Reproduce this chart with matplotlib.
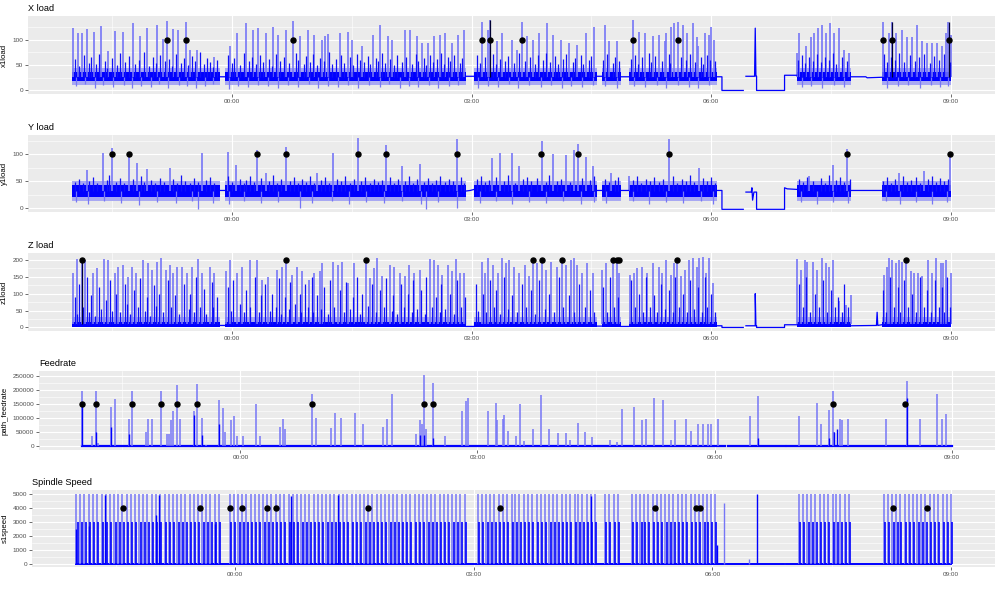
import numpy as np
import matplotlib
matplotlib.use("Agg")
import matplotlib.pyplot as plt

plt.rcParams['font.family'] = ['Liberation Sans', 'DejaVu Sans']

nan = np.nan
# time axis: minutes since 22:00
x_major = [120, 300, 480, 660]
x_major_labels = ["00:00", "03:00", "06:00", "09:00"]
x_minor = [30, 210, 390, 570]

# machining (active) periods, minutes since 22:00
active = [(0, 111), (115, 296), (302, 394), (398, 412), (418, 484), (544, 585), (608, 660)]

# ---------------- X load ----------------
x_band = (18, 36)
x_fringe = (11, 44)
x_flat_t = [111, 115, nan, 296, 302, nan, 394, 398, nan, 412, 418, nan, 484, 488, 488, 504, nan,
            506, 512.5, 513, 513.5, 514, 514, 535, 535, 544, nan, 585, 596, 597, 608]
x_flat_v = [27, 27, nan, 28, 28, nan, 28, 28, nan, 27, 27, nan, 27, 27, 0, 0, nan,
            28, 28, 123, 28, 28, 0, 0, 30, 30, nan, 27, 27, 25, 26]
x_tall = [(1,124),(4.5,114),(7.5,113),(11,121),(16.5,116),(22,128),(27,77),(32,118),(38,116),(46,133),(51,108),
          (56,123),(64,130),(68,101),(71,138),(76,121),(79.5,120),(85.5,136),(88.5,80),(94,80),(107,67),(118.5,87),
          (124,114),(131,133),(136,120),(139.5,123),(146,113),(151,126),(154.5,110),(161,120),(166,137),(171,108),
          (177,120),(182,110),(187.5,100),(190,108),(192,112),(201,113),(207,116),(210,100),(218,87),(226,110),
          (231,130),(237,107),(240,100),(250,120),(253.5,120),(259,107),(262.5,93),(267,93),(272,107),(276,110),
          (280,113),(285,93),(289.5,110),(294,120),(308,136),(312,120),(314,140),(319,97),(322.5,113),(330,100),
          (334.5,80),(338,136),(342,107),(346,100),(351,113),(357,133),(361,110),(367.5,100),(373.5,93),(379,90),
          (386,113),(392,126),(400.5,130),(403.5,97),(409,97),(421,140),(426,116),(430.5,113),(436,107),(441,110),
          (445,97),(446,113),(450,126),(452,133),(455,136),(459,130),(462,113),(466,133),(469,106),(470,87),
          (475,113),(478,110),(480,126),(482,100),(544.5,74),(546,113),(551,87),(555,106),(557,113),(560,123),
          (563,130),(566,113),(569,133),(572,113),(576,123),(580,80),(583.5,74),(609,136),(613.5,113),(616,136),
          (619,113),(623,120),(627,106),(631,106),(634.5,130),(638,97),(642,93),(645.75,93),(649.5,93),(653,87),
          (656,113),(658,136),(660,110)]
x_mid = [(2.5,62),(5.5,48),(9,70),(12.5,55),(14,66),(18,52),(20,72),(24.5,58),(26,45),(30,64),(34,50),(36,74),
         (40,56),(43,68),(47.5,52),(50,60),(54,75),(58,49),(61,66),(63,54),(66,70),(69.5,58),(73,62),(75,48),
         (78,72),(81.5,55),(84,64),(87,50),(90,68),(92.5,58),(96,75),(99,52),(101.5,64),(104,56),(106,46),(109,60),
         (117,70),(120,55),(122,64),(126,50),(129,74),(133,58),(135,66),(138,52),(141,70),(143.5,56),(148,62),
         (150,48),(153,72),(156,58),(159,66),(163,54),(168,74),(170,60),(174,52),(176,68),(179,56),(181,72),
         (184,50),(186,64),(189,58),(193,76),(195,52),(198,62),(202,70),(204,55),(209,66),(211,50),(214,72),
         (216,60),(219,56),(222,68),(224,52),(228,64),(230,58),(233,74),(235,55),(239,62),(242,50),(244,70),
         (248,56),(251,66),(255,52),(258,72),(260,58),(264,64),(266,50),(269,70),(271,56),(274,62),(277,74),
         (279,52),(282,66),(284,58),(287,70),(291,54),(293,64),(304,70),(306,55),(310,66),(316,72),(318,52),
         (321,62),(325,58),(327,68),(332,54),(336,74),(340,58),(344,66),(348,52),(350,70),(354,60),(356,74),
         (359,56),(363,68),(365,52),(369,62),(371,72),(376,56),(378,64),(382,70),(384,52),(388,60),(390,68),
         (399,60),(402,72),(406,55),(408,66),(411,58),(420,62),(423,70),(425,52),(428,66),(433,74),(435,56),
         (438,68),(443,58),(448,72),(449,54),(457,66),(461,60),(464,72),(468,56),(472,66),(474,52),(477,70),
         (479,60),(483,58),(545,60),(548,70),(550,54),(553,66),(556,58),(559,72),(562,56),(565,66),(568,60),
         (571,74),(574,52),(578,66),(582,58),(610,72),(612,56),(615,66),(618,60),(621,74),(625,56),(629,70),
         (633,58),(636,66),(640,72),(644,54),(647,68),(651,60),(655,72),(659,56)]
x_low = [(3,8),(10,12),(17,5),(23,10),(31,6),(39,11),(45,4),(52,9),(59,7),(65,12),(72,5),(80,10),(86,8),(93,4),
         (100,9),(106,12),(118,3),(125,9),(132,6),(140,11),(147,8),(155,4),(162,10),(170,7),(178,12),(185,5),
         (192,9),(200,6),(207,11),(215,4),(223,10),(231,7),(238,12),(246,5),(253,9),(260,6),(268,11),(275,4),
         (283,8),(290,10),(305,5),(312,9),(320,6),(328,12),(335,4),(343,10),(352,7),(360,11),(368,5),(375,9),
         (383,6),(391,10),(400,8),(409,5),(422,9),(430,6),(439,11),(446,4),(455,10),(463,7),(470,5),(478,10),
         (548,6),(555,9),(563,4),(572,10),(580,7),(612,4),(620,8),(628,11),(637,5),(645,10),(652,6),(658,9)]
x_black = [(314,140),(616,136),(658.5,136)]
x_pts = [(71,100),(85.5,100),(166,100),(308,100),(314,100),(338,100),(421.5,100),(455,100),(609,100),(616,100),(658.5,100)]

# ---------------- Y load ----------------
y_band = (20, 43)
y_fringe = (13, 51)
y_flat_t = [111, 115, nan, 296, 299, 302, nan, 394, 398, nan, 412, 418, nan, 484, 488, 488, 504, nan,
            506, 510, 510.5, 511, 512, 514, 514, 535, 535, 537, 544, nan, 585, 608]
y_flat_v = [33, 33, nan, 32, 33, 35, nan, 33, 33, nan, 33, 33, nan, 33, 33, -2, -2, nan,
            30, 30, 38, 15, 30, 30, -2, -2, 38, 36, 35, nan, 33, 33]
y_tall = [(11,71),(23,103),(30,112),(43,105),(49,84),(56,72),(73.5,75),(98,103),(117,104),(123,81),(139,108),
          (145.5,65),(161,114),(184,65),(196,102),(214.5,130),(236,118),(247.5,78),(261,82),(289,129),(315,94),
          (321,102),(330,103),(336,78),(353,124),(361,100),(371,98),(377,108),(380,120),(386,96),(391,78),
          (405,65),(418.5,60),(448,128),(471,75),(553.5,60),(571,80),(582,110),(621,65),(640,70),(659,100)]
y_mid = [(2,48),(5,55),(8,46),(13,50),(16,58),(19,47),(26,52),(28,62),(33,49),(36,56),(39,46),(46,54),(52,60),
         (54,48),(59,52),(62,46),(66,57),(69,49),(76,55),(79,46),(82,62),(85,50),(89,47),(92,56),(95,49),(101,53),
         (104,58),(107,46),(117,60),(120,48),(126,55),(129,46),(131,52),(134,60),(137,48),(142,56),(148,50),
         (151,62),(154,47),(157,54),(164,50),(167,58),(170,46),(173,55),(176,49),(179,60),(182,47),(187,53),
         (190,58),(193,46),(199,55),(202,50),(205,60),(209,47),(212,54),(217,50),(220,58),(224,46),(227,55),
         (230,49),(233,52),(239,58),(242,47),(245,55),(250,50),(253,60),(256,46),(259,54),(264,49),(267,56),
         (270,47),(273,53),(276,60),(280,48),(283,55),(286,50),(292,58),(294,47),(304,55),(307,60),(310,48),
         (313,52),(318,58),(324,50),(327,62),(333,47),(339,55),(342,58),(345,50),(349,56),(356,48),(358,62),
         (364,50),(367,55),(374,48),(383,57),(389,52),(392,60),(400,55),(403,48),(408,52),(410,58),(421,52),
         (424,60),(427,47),(431,55),(434,50),(437,58),(441,48),(444,54),(451,60),(454,47),(458,55),(461,50),
         (464,62),(467,48),(474,56),(477,50),(480,58),(483,47),(546,55),(549,48),(552,58),(556,50),(562,56),
         (565,47),(568,62),(574,52),(577,58),(580,48),(584,55),(609,50),(612,58),(615,47),(618,55),(624,60),
         (627,48),(630,52),(634,58),(637,47),(643,55),(646,60),(649,48),(652,56),(655,50),(658,54)]
y_low = [(3,12),(12,8),(24,14),(37,10),(50,6),(64,12),(78,9),(90,13),(94.5,-1),(106,10),(118,8),(129,13),(142,9),
         (155,12),(171,0),(180,10),(195,14),(208,7),(221,12),(234,9),(248,13),(262,8),(266,-1),(275,11),(289,0),
         (306,10),(318,13),(330,7),(343,12),(356,9),(369,14),(382,8),(392,11),(401,9),(421,13),(433,7),(446,12),
         (459,9),(472,13),(481,8),(547,12),(559,7),(571,11),(583,9),(611,13),(622,8),(634,11),(646,7),(657,12)]
y_pts = [(30,100),(43,100),(139,100),(161,100),(214.5,100),(236,100),(289,100),(352.5,100),(380,100),(448,100),(582,100),(659,100)]

# ---------------- Z load ----------------
z_band = (1, 17)
z_fringe = (0, 30)
z_flat_t = [111, 115, nan, 296, 302, nan, 394, 398, nan, 412, 418, nan, 484, 488, 488, 504, nan,
            506, 513, 513, 513.5, 514, 514, 535, 535, 544, nan, 585, 604, 604.5, 605, 608]
z_flat_v = [6, 6, nan, 3, 3, nan, 4, 4, nan, 3, 3, nan, 5, 5, 0, 0, nan,
            5, 5, 100, 5, 5, 0, 0, 8, 8, nan, 5, 6, 45, 6, 8]
z_tall = [(1,161),(4,202),(7.5,205),(10,200),(16,161),(19,176),(24,202),(27,200),(32,161),(34.5,180),(38,185),
          (42,150),(45,180),(48,161),(53,200),(57,190),(60,171),(64,195),(67,205),(70.5,171),(73.5,185),(76,161),
          (79,178),(82.5,180),(86,161),(90,180),(94.5,202),(98,161),(103.5,180),(107,161),(116,166),(118.5,200),
          (124,161),(128,180),(134,200),(139,200),(143,141),(147,150),(154,171),(158,180),(161,205),(165,156),
          (169,180),(173,166),(178,141),(182,161),(186,166),(188,190),(196,195),(199.5,185),(203,195),(207,132),
          (212,190),(220.5,200),(223.5,146),(227,176),(229,205),(233,151),(238.5,185),(242,180),(246,161),
          (250,151),(253,185),(257,161),(261,171),(268.5,202),(272,200),(274.5,185),(278,156),(282,185),(285,166),
          (288,203),(291,161),(294,161),(307.5,195),(310,161),(312,205),(316,185),(319.5,161),(322.5,205),
          (325.5,190),(328,200),(332,180),(336,161),(340,185),(343,151),(346.5,200),(349.5,190),(353,200),
          (356,171),(360,195),(364,180),(368,200),(371,185),(375,200),(377,205),(379.5,185),(383,161),(387,190),
          (391,161),(398,171),(401,190),(406,200),(409,200),(411,161),(419,156),(422,161),(424.5,176),(428,180),
          (432,161),(436,190),(441,180),(443,161),(446,200),(450,156),(452,190),(454.5,202),(457.5,151),
          (460,171),(463,200),(466,205),(469,180),(471,205),(474,210),(476,161),(478.5,205),(481,132),
          (544.5,202),(547.5,171),(550,200),(552,195),(556.5,195),(559.5,171),(563,205),(566,190),(568.5,180),
          (571,200),(576,77),(581,66),(585,97),(610,156),(612,180),(613.5,205),(616,200),(619,190),(621,200),
          (623,195),(626,202),(630,166),(632,161),(635,161),(638,151),(643,200),(646,161),(649,205),(652.5,190),
          (654,190),(656,200),(660,161)]
z_mid = [(2,90),(3.5,40),(5.5,130),(8.5,60),(11.5,150),(13,45),(14.5,95),(17.5,35),(20.5,120),(22,55),(25.5,80),
         (28.5,140),(30,50),(33,100),(36,45),(39.5,130),(41,70),(43.5,40),(46.5,110),(49.5,60),(51,145),(54.5,50),
         (56,90),(58.5,35),(61.5,125),(63,65),(65.5,100),(68.5,45),(72,140),(74.5,60),(77.5,95),(80.5,40),
         (84,130),(87.5,55),(89,100),(91.5,45),(93,150),(96,60),(99.5,115),(101,40),(105,135),(106,60),(109,90),
         (117,120),(119.5,50),(121,140),(126,70),(129.5,45),(131,110),(133.5,60),(137.5,150),(140.5,45),(142,95),
         (145,130),(148.5,50),(150,100),(153,60),(155.5,145),(157,40),(160,90),(163,55),(164,135),(167.5,70),
         (171,100),(172,45),(175,130),(177,60),(180,150),(181,45),(184,95),(187,55),(189.5,120),(192,40),(194,140),
         (197,60),(201,110),(204,45),(206,135),(209,55),(211,90),(214,150),(216,40),(218,100),(222,65),(225,130),
         (228,45),(231,110),(234,60),(236,145),(240,50),(241,95),(244,40),(247,130),(249,60),(252,100),(255,45),
         (256,140),(259,55),(262,110),(265,40),(266,150),(270,60),(273,90),(276,45),(277,130),(280,55),(283.5,100),
         (287,40),(289,140),(292,60),(295,90),(303,130),(305,50),(308.5,100),(311,45),(314,140),(317,60),(318,110),
         (321,40),(324,150),(327,55),(330,95),(334,45),(338,130),(341,60),(345,110),(348,40),(351,140),(355,55),
         (358,100),(362,45),(366,150),(369,60),(373,95),(377,45),(381,130),(385,60),(389,110),(392,45),(399,120),
         (402,45),(404,150),(407,60),(410,90),(420,140),(423,60),(426,100),(429,45),(431,150),(434,60),(437,95),
         (439,45),(442,130),(445,55),(448,110),(451,45),(453,150),(456,60),(459,100),(462,45),(464,140),(467,55),
         (470,120),(473,45),(475,150),(477,60),(480,100),(483,45),(546,130),(549,60),(551,150),(554,45),(558,100),
         (561,60),(564,140),(567,45),(570,110),(573,60),(575,90),(578,45),(580,130),(583,60),(609,110),(611,45),
         (614,150),(617,60),(620,120),(622,45),(625,140),(628,60),(631,100),(634,45),(637,150),(640,60),(642,110),
         (645,45),(648,140),(651,60),(653,120),(655,45),(657,150),(659,60)]
z_black = [(7.5,205)]
z_pts = [(7.5,200),(161,200),(220.5,200),(346.5,200),(353,200),(368,200),(406,200),(409,200),(411,200),(454.5,200),(626,200)]

# ---------------- Feedrate ----------------
f_base_t = [0, 488, nan, 490, 533.5, nan, 535, 660]
f_base_v = [0, 0, nan, 0, 0, nan, 0, 0]
f_tall = [(0,194000),(7,38000),(10,194000),(12,12000),(22,140000),(25,166000),(35.7,98000),(38,194000),(48,50000),
          (50,98000),(53,98000),(60,194000),(64.5,44000),(66,44000),(67.6,92000),(69,124000),(72,218000),
          (74.4,98000),(85,124000),(87.3,220000),(91,100000),(94,5000),(104,164000),(107,134000),(108.6,50000),
          (113,92000),(115.4,108000),(117,38000),(122,38000),(132,148000),(135,38000),(150,68000),(152,96000),
          (154,62000),(174,185000),(177,100000),(189,66000),(192,116000),(196,100000),(207,116000),(212.7,80000),
          (228.6,68000),(231,96000),(234.7,185000),(253,44000),(256,94000),(257.5,80000),(259.5,253000),
          (261,62000),(266,224000),(275,38000),(288,124000),(291,161000),(293,171000),(307.6,124000),
          (313.7,154000),(315,92000),(319,96000),(320.5,110000),(323.5,54000),(329.6,38000),(332,148000),
          (335,20000),(341.8,62000),(348.6,180000),(354,62000),(360.8,46000),(367,46000),(370,22000),(376,82000),
          (382,50000),(386.6,32000),(401,24000),(405.6,14000),(410,131000),(418.5,140000),(424.6,92000),
          (428,96000),(434.4,172000),(440.5,164000),(447,24000),(450,92000),(458.7,96000),(462.5,53000),
          (467.8,78000),(471.6,78000),(474.7,78000),(477.7,78000),(483,96000),(507,108000),(513,178000),
          (543.8,108000),(557.5,154000),(560.5,80000),(566.6,130000),(569.6,194000),(571,50000),(575,96000),
          (576.5,92000),(581,96000),(610.6,96000),(625.8,232000),(635.7,96000),(648.6,185000),(653,96000),
          (656,114000)]
f_dark = [(0,150000),(10,50000),(22,68000),(35.7,44000),(85,112000),(91,40000),(104,80000),(256,40000),
          (259.5,40000),(266,30000),(513,30000),(571,50000),(573,60000),(625.8,170000),(566.6,30000)]
f_pts = [(0,150000),(10,150000),(38,150000),(60,150000),(72,150000),(87.3,150000),(174,150000),(259.5,150000),
         (266,150000),(569.6,150000),(625,150000)]

# ---------------- Spindle speed ----------------
s_cycles = [0.5, 3.5, 6.5, 10, 13, 16, 19.5, 22.5, 25.5, 29, 32, 35, 38.5, 41.5, 44.5, 48, 51, 54, 57.5, 60.5,
            63.5, 67, 70, 73, 76.5, 79.5, 82.5, 86, 89, 92, 95.5, 98.5, 101.5, 105, 108,
            116, 119, 122.5, 125.5, 128.5, 132, 135, 138, 141.5, 144.5, 147.5, 151, 154, 157, 160.5, 163.5, 166.5,
            170, 173, 176, 179.5, 182.5, 185.5, 189, 192, 195, 198.5, 201.5, 204.5, 208, 211, 214, 217.5, 220.5,
            223.5, 227, 230, 233, 236.5, 239.5, 242.5, 246, 249, 252, 255.5, 258.5, 261.5, 265, 268, 271, 274.5,
            277.5, 280.5, 284, 287, 290, 293.5,
            303, 306, 309.5, 312.5, 315.5, 319, 322, 325, 328.5, 331.5, 334.5, 338, 341, 344, 347.5, 350.5, 353.5,
            357, 360, 363, 366.5, 369.5, 372.5, 376, 379, 382, 385.5, 388.5, 391.5,
            399, 402, 405.5, 408.5,
            419, 422, 425.5, 428.5, 431.5, 435, 438, 441, 444.5, 447.5, 450.5, 454, 457, 460, 463.5, 466.5, 469.5,
            473, 476, 479, 482,
            545, 548, 551.5, 554.5, 557.5, 561, 564, 567, 570.5, 573.5, 576.5, 580, 583,
            609, 612, 615.5, 618.5, 621.5, 625, 628, 631, 634.5, 637.5, 640.5, 644, 647, 650, 653.5, 656.5, 659.5]
s_peak = 5000
s_hold = 3000
s_odd = [(0.5,2500),(10,2700),(22,4900),(60.5,3500),(62.5,4900),(105,2800),(162,4800),(198,4900),(388.5,4800),
         (483.5,1300),(513.5,5000)]
s_light_extra = [(488.5,4300),(507.5,350)]
s_base_t = [0, 489.5, nan, 491, 506, nan, 507, 534, nan, 535.5, 660]
s_base_v = [0, 0, nan, 0, 0, nan, 0, 0, nan, 0, 0]
s_pts = [(35.4,4000),(94,4000),(116,4000),(125,4000),(144,4000),(150.6,4000),(220,4000),(320,4000),(436.7,4000),
         (467.6,4000),(470.6,4000),(616,4000),(641.6,4000)]

BLUE = '#0000FF'
LIGHT = '#7676F6'
MIDC = '#1010F8'
FRINGE = '#A8A8F2'

def unzip(pairs):
    if not pairs:
        return [], []
    a, b = zip(*pairs)
    return list(a), list(b)

def style(ax, ylim, yticks, yminor, ylabel, title, label_x):
    ax.set_facecolor('#EBEBEB')
    for s in ax.spines.values():
        s.set_visible(False)
    ax.set_xlim(-33, 693)
    ax.set_ylim(*ylim)
    ax.set_xticks(x_major)
    ax.set_xticklabels(x_major_labels)
    ax.set_xticks(x_minor, minor=True)
    ax.set_yticks(yticks)
    ax.set_yticklabels([str(v) for v in yticks])
    ax.set_yticks(yminor, minor=True)
    ax.grid(which='major', color='white', lw=0.8)
    ax.grid(which='minor', color='white', lw=0.4)
    ax.set_axisbelow(True)
    ax.tick_params(which='major', length=2, width=0.5, color='#333333', labelsize=4.6,
                   labelcolor='#4D4D4D', pad=1.5)
    ax.tick_params(which='minor', length=0)
    ax.set_title(title, loc='left', fontsize=6.6, pad=3.5)
    ax.set_ylabel(ylabel, fontsize=5.6)
    ax.yaxis.set_label_coords(label_x, 0.5)

def load_panel(ax, band, fringe, flat_t, flat_v, tall, mid, low, black, pts):
    c = (band[0] + band[1]) / 2.0
    for (t0, t1) in active:
        ax.fill_between([t0, t1], [fringe[0]] * 2, [fringe[1]] * 2, color=FRINGE, lw=0)
    t, v = unzip(low)
    ax.vlines(t, v, c, colors=LIGHT, lw=0.9)
    t, v = unzip(tall)
    ax.vlines(t, c, v, colors=LIGHT, lw=1.2)
    t, v = unzip(mid)
    ax.vlines(t, c, v, colors=MIDC, lw=0.9)
    for (t0, t1) in active:
        ax.fill_between([t0, t1], [band[0]] * 2, [band[1]] * 2, color=BLUE, lw=0)
    t, v = unzip(black)
    ax.vlines(t, c, v, colors='#000033', lw=0.9)
    ax.plot(flat_t, flat_v, color=BLUE, lw=0.9)
    t, v = unzip(pts)
    ax.plot(t, v, 'o', color='black', ms=3.6, zorder=5)

fig = plt.figure(figsize=(10, 5.92), dpi=100)
W, H = 1000.0, 592.0

def add_axes(left, top, bottom, right=995):
    return fig.add_axes([left / W, 1 - bottom / H, (right - left) / W, (bottom - top) / H])

ax1 = add_axes(28, 16, 94)
load_panel(ax1, x_band, x_fringe, x_flat_t, x_flat_v, x_tall, x_mid, x_low, x_black, x_pts)
style(ax1, (-7, 147), [0, 50, 100], [25, 75, 125], 'x1load', 'X load', (8 - 28) / 967.0)

ax2 = add_axes(28, 135, 212)
load_panel(ax2, y_band, y_fringe, y_flat_t, y_flat_v, y_tall, y_mid, y_low, [], y_pts)
style(ax2, (-7, 136), [0, 50, 100], [25, 75, 125], 'y1load', 'Y load', (8 - 28) / 967.0)

ax3 = add_axes(28, 253, 331)
load_panel(ax3, z_band, z_fringe, z_flat_t, z_flat_v, z_tall, z_mid, [], z_black, z_pts)
style(ax3, (-10.5, 220.5), [0, 50, 100, 150, 200], [25, 75, 125, 175], 'z1load', 'Z load', (8 - 28) / 967.0)

ax4 = add_axes(39, 371, 450)
ax4.plot(f_base_t, f_base_v, color=BLUE, lw=1.6)
t, v = unzip(f_tall)
ax4.vlines(t, 0, v, colors=LIGHT, lw=1.1)
t, v = unzip(f_dark)
ax4.vlines(t, 0, v, colors=BLUE, lw=1.0)
t, v = unzip(f_pts)
ax4.plot(t, v, 'o', color='black', ms=3.6, zorder=5)
style(ax4, (-13000, 266000), [0, 50000, 100000, 150000, 200000, 250000],
      [25000, 75000, 125000, 175000, 225000], 'path_feedrate', 'Feedrate', (9 - 39) / 956.0)

ax5 = add_axes(32, 490, 567)
ax5.plot(s_base_t, s_base_v, color=BLUE, lw=1.4)
ax5.vlines(s_cycles, 0, s_peak, colors=LIGHT, lw=1.1)
ax5.vlines([t + 1.0 for t in s_cycles], 0, s_hold, colors=BLUE, lw=1.2)
t, v = unzip(s_odd)
ax5.vlines(t, 0, v, colors=BLUE, lw=1.0)
t, v = unzip(s_light_extra)
ax5.vlines(t, 0, v, colors=LIGHT, lw=1.0)
t, v = unzip(s_pts)
ax5.plot(t, v, 'o', color='black', ms=3.6, zorder=5)
style(ax5, (-250, 5250), [0, 1000, 2000, 3000, 4000, 5000], [500, 1500, 2500, 3500, 4500],
      's1speed', 'Spindle Speed', (9 - 32) / 963.0)

fig.savefig('out.png', dpi=100)
